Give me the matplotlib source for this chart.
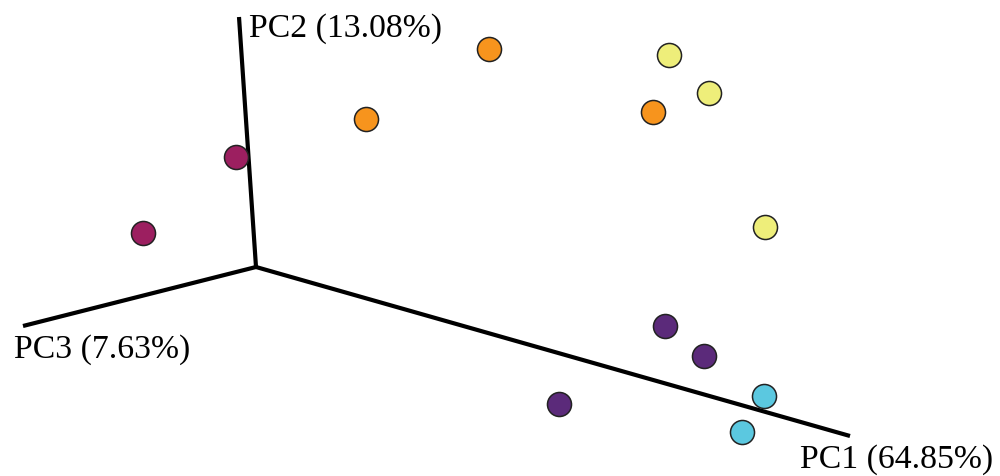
import matplotlib
matplotlib.use("Agg")
import matplotlib.pyplot as plt

# projected 2D positions of the 3D PCA axes (screen units)
origin = (256, 268)
axis_ends = {"PC1": (850, 437), "PC2": (239, 18), "PC3": (23, 327)}
axis_labels = {"PC1": "PC1 (64.85%)", "PC2": "PC2 (13.08%)", "PC3": "PC3 (7.63%)"}
label_pos = {"PC1": (800, 468), "PC2": (249, 37), "PC3": (14, 358)}

# sample groups, projected coordinates
groups = ["g1", "g2", "g3", "g4", "g5"]
colors = ["#9c1f60", "#f7941d", "#eeee7a", "#5b2a7a", "#5bc8e0"]
xs = [[236, 143], [489, 366, 653], [669, 709, 765], [665, 704, 559], [764, 742]]
ys = [[158, 234], [50, 120, 113], [56, 94, 228], [327, 357, 405], [397, 433]]

fig = plt.figure(figsize=(10, 4.77), dpi=100)
ax = fig.add_axes([0, 0, 1, 1])
ax.set_xlim(0, 1000)
ax.set_ylim(477, 0)
ax.axis("off")

for k, end in axis_ends.items():
    ax.plot([origin[0], end[0]], [origin[1], end[1]], color="black", lw=3,
            solid_capstyle="butt", zorder=1)
    ax.text(label_pos[k][0], label_pos[k][1], axis_labels[k], fontsize=24.3,
            family="Liberation Serif", ha="left", va="baseline")

for g, c, x, y in zip(groups, colors, xs, ys):
    ax.scatter(x, y, s=300, color=c, edgecolor="#222222", linewidth=1.1, zorder=3)

plt.savefig("out.png", dpi=100)
